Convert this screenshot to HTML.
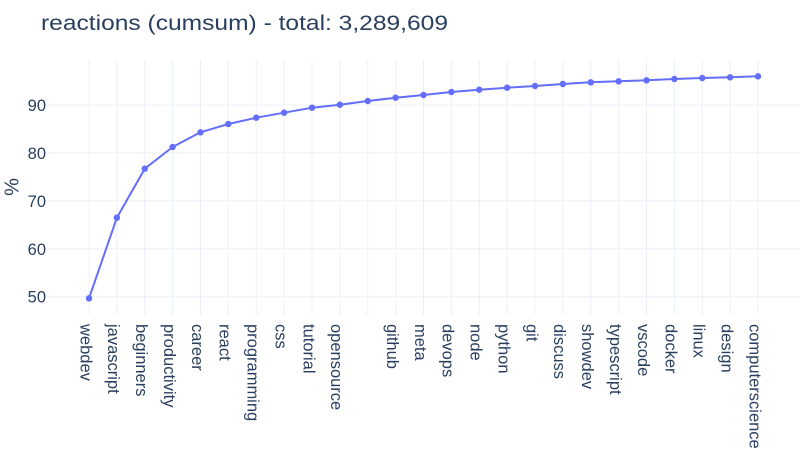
<!DOCTYPE html>
<html><head><meta charset="utf-8"><style>
html,body{margin:0;padding:0;background:#fff;}
svg{display:block;}
text{font-family:"Liberation Sans",Arial,sans-serif;fill:#2a3f5f;}
</style></head><body>
<svg width="800" height="450" viewBox="0 0 800 450" xmlns="http://www.w3.org/2000/svg">
<rect width="800" height="450" fill="#fff"/>
<g stroke="#EBF0F8" stroke-width="1">
<line x1="48" x2="800" y1="296.7" y2="296.7"/>
<line x1="48" x2="800" y1="248.8" y2="248.8"/>
<line x1="48" x2="800" y1="200.8" y2="200.8"/>
<line x1="48" x2="800" y1="152.9" y2="152.9"/>
<line x1="48" x2="800" y1="105" y2="105"/>
<line x1="89" x2="89" y1="60" y2="315"/>
<line x1="116.875" x2="116.875" y1="60" y2="315"/>
<line x1="144.75" x2="144.75" y1="60" y2="315"/>
<line x1="172.625" x2="172.625" y1="60" y2="315"/>
<line x1="200.5" x2="200.5" y1="60" y2="315"/>
<line x1="228.375" x2="228.375" y1="60" y2="315"/>
<line x1="256.25" x2="256.25" y1="60" y2="315"/>
<line x1="284.125" x2="284.125" y1="60" y2="315"/>
<line x1="312" x2="312" y1="60" y2="315"/>
<line x1="339.875" x2="339.875" y1="60" y2="315"/>
<line x1="367.75" x2="367.75" y1="60" y2="315"/>
<line x1="395.625" x2="395.625" y1="60" y2="315"/>
<line x1="423.5" x2="423.5" y1="60" y2="315"/>
<line x1="451.375" x2="451.375" y1="60" y2="315"/>
<line x1="479.25" x2="479.25" y1="60" y2="315"/>
<line x1="507.125" x2="507.125" y1="60" y2="315"/>
<line x1="535" x2="535" y1="60" y2="315"/>
<line x1="562.875" x2="562.875" y1="60" y2="315"/>
<line x1="590.75" x2="590.75" y1="60" y2="315"/>
<line x1="618.625" x2="618.625" y1="60" y2="315"/>
<line x1="646.5" x2="646.5" y1="60" y2="315"/>
<line x1="674.375" x2="674.375" y1="60" y2="315"/>
<line x1="702.25" x2="702.25" y1="60" y2="315"/>
<line x1="730.125" x2="730.125" y1="60" y2="315"/>
<line x1="758" x2="758" y1="60" y2="315"/>
</g>
<text x="41" y="30" font-size="21" textLength="407" lengthAdjust="spacingAndGlyphs">reactions (cumsum) - total: 3,289,609</text>
<g font-size="16.5" text-anchor="end">
<text x="46" y="302.7">50</text>
<text x="46" y="254.8">60</text>
<text x="46" y="206.8">70</text>
<text x="46" y="158.9">80</text>
<text x="46" y="111">90</text>
</g>
<text transform="translate(18.5,187) rotate(-90)" font-size="20" text-anchor="middle">%</text>
<g font-size="16.5">
<text transform="translate(80.3,324) rotate(90)">webdev</text>
<text transform="translate(108.2,324) rotate(90)">javascript</text>
<text transform="translate(136.1,324) rotate(90)">beginners</text>
<text transform="translate(163.9,324) rotate(90)">productivity</text>
<text transform="translate(191.8,324) rotate(90)">career</text>
<text transform="translate(219.7,324) rotate(90)">react</text>
<text transform="translate(247.6,324) rotate(90)">programming</text>
<text transform="translate(275.4,324) rotate(90)">css</text>
<text transform="translate(303.3,324) rotate(90)">tutorial</text>
<text transform="translate(331.2,324) rotate(90)">opensource</text>
<text transform="translate(386.9,324) rotate(90)">github</text>
<text transform="translate(414.8,324) rotate(90)">meta</text>
<text transform="translate(442.7,324) rotate(90)">devops</text>
<text transform="translate(470.6,324) rotate(90)">node</text>
<text transform="translate(498.4,324) rotate(90)">python</text>
<text transform="translate(526.3,324) rotate(90)">git</text>
<text transform="translate(554.2,324) rotate(90)">discuss</text>
<text transform="translate(582.1,324) rotate(90)">showdev</text>
<text transform="translate(609.9,324) rotate(90)">typescript</text>
<text transform="translate(637.8,324) rotate(90)">vscode</text>
<text transform="translate(665.7,324) rotate(90)">docker</text>
<text transform="translate(693.6,324) rotate(90)">linux</text>
<text transform="translate(721.4,324) rotate(90)">design</text>
<text transform="translate(749.3,324) rotate(90)">computerscience</text>
</g>
<polyline fill="none" stroke="#636efa" stroke-width="2" stroke-linejoin="round" points="89,298.3 116.875,217.7 144.75,168.7 172.625,147 200.5,132.3 228.375,124 256.25,117.7 284.125,112.7 312,107.7 339.875,104.7 367.75,101 395.625,97.7 423.5,95 451.375,92 479.25,89.7 507.125,87.7 535,86 562.875,84 590.75,82.3 618.625,81.3 646.5,80.3 674.375,79 702.25,78 730.125,77.3 758,76.3"/>
<g fill="#636efa">
<circle cx="89" cy="298.3" r="3.2"/>
<circle cx="116.875" cy="217.7" r="3.2"/>
<circle cx="144.75" cy="168.7" r="3.2"/>
<circle cx="172.625" cy="147" r="3.2"/>
<circle cx="200.5" cy="132.3" r="3.2"/>
<circle cx="228.375" cy="124" r="3.2"/>
<circle cx="256.25" cy="117.7" r="3.2"/>
<circle cx="284.125" cy="112.7" r="3.2"/>
<circle cx="312" cy="107.7" r="3.2"/>
<circle cx="339.875" cy="104.7" r="3.2"/>
<circle cx="367.75" cy="101" r="3.2"/>
<circle cx="395.625" cy="97.7" r="3.2"/>
<circle cx="423.5" cy="95" r="3.2"/>
<circle cx="451.375" cy="92" r="3.2"/>
<circle cx="479.25" cy="89.7" r="3.2"/>
<circle cx="507.125" cy="87.7" r="3.2"/>
<circle cx="535" cy="86" r="3.2"/>
<circle cx="562.875" cy="84" r="3.2"/>
<circle cx="590.75" cy="82.3" r="3.2"/>
<circle cx="618.625" cy="81.3" r="3.2"/>
<circle cx="646.5" cy="80.3" r="3.2"/>
<circle cx="674.375" cy="79" r="3.2"/>
<circle cx="702.25" cy="78" r="3.2"/>
<circle cx="730.125" cy="77.3" r="3.2"/>
<circle cx="758" cy="76.3" r="3.2"/>
</g>
</svg>
</body></html>
